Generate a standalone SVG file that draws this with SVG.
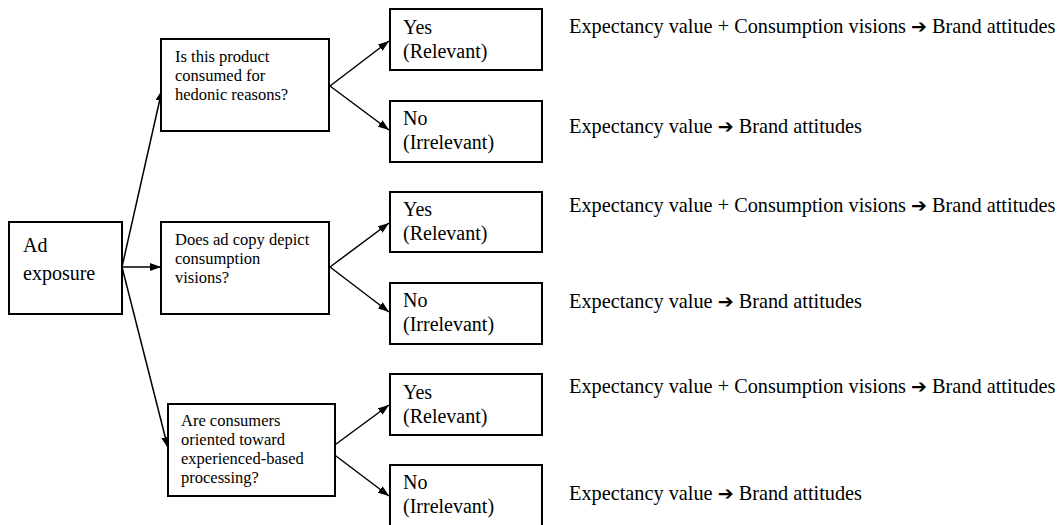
<svg xmlns="http://www.w3.org/2000/svg" width="1062" height="525" viewBox="0 0 1062 525">
<style>
.box{fill:#fff;stroke:#000;stroke-width:2}
text{font-family:'Liberation Serif','Times New Roman',serif;fill:#000}
.big{font-size:20px}
.out{font-size:20.3px}
.q{font-size:16.5px}
.ar{font-family:'DejaVu Sans',sans-serif;font-size:19px}
.c{stroke:#000;stroke-width:1.5;fill:none;marker-end:url(#ah)}
</style>
<defs>
<marker id="ah" markerUnits="userSpaceOnUse" markerWidth="11" markerHeight="8" refX="11" refY="4" orient="auto">
<path d="M0,0 L11,4 L0,8 z" fill="#000"/>
</marker>
</defs>
<rect width="1062" height="525" fill="#fff"/>
<g id="connectors">
<line class="c" x1="122" y1="267" x2="162" y2="90"/>
<line class="c" x1="122" y1="267" x2="161" y2="267"/>
<line class="c" x1="122" y1="267" x2="168" y2="448"/>
<line class="c" x1="330" y1="86" x2="389" y2="41"/>
<line class="c" x1="330" y1="86" x2="389" y2="130"/>
<line class="c" x1="330" y1="267" x2="389" y2="223"/>
<line class="c" x1="330" y1="267" x2="389" y2="312"/>
<line class="c" x1="328" y1="450" x2="389" y2="405"/>
<line class="c" x1="328" y1="450" x2="389" y2="496"/>
</g>
<g id="ad">
<rect class="box" x="9" y="222" width="113" height="92"/>
<text class="big" x="23" y="252">Ad</text>
<text class="big" x="23" y="280">exposure</text>
</g>
<g id="q1">
<rect class="box" x="161" y="39" width="168" height="92"/>
<text class="q" x="175" y="62">Is this product</text>
<text class="q" x="175" y="81">consumed for</text>
<text class="q" x="175" y="100">hedonic reasons?</text>
</g>
<g id="q2">
<rect class="box" x="161" y="222" width="168" height="92"/>
<text class="q" x="175" y="245">Does ad copy depict</text>
<text class="q" x="175" y="264">consumption</text>
<text class="q" x="175" y="283">visions?</text>
</g>
<g id="q3">
<rect class="box" x="168" y="404" width="167" height="92"/>
<text class="q" x="181" y="426">Are consumers</text>
<text class="q" x="181" y="445">oriented toward</text>
<text class="q" x="181" y="464">experienced-based</text>
<text class="q" x="181" y="483">processing?</text>
</g>
<g id="yes1">
<rect class="box" x="390" y="9" width="152" height="61"/>
<text class="big" x="403" y="34">Yes</text>
<text class="big" x="403" y="58">(Relevant)</text>
</g>
<g id="no1">
<rect class="box" x="390" y="101" width="152" height="61"/>
<text class="big" x="403" y="125">No</text>
<text class="big" x="403" y="149">(Irrelevant)</text>
</g>
<g id="yes2">
<rect class="box" x="390" y="192" width="152" height="60"/>
<text class="big" x="403" y="216">Yes</text>
<text class="big" x="403" y="240">(Relevant)</text>
</g>
<g id="no2">
<rect class="box" x="390" y="283" width="152" height="61"/>
<text class="big" x="403" y="307">No</text>
<text class="big" x="403" y="331">(Irrelevant)</text>
</g>
<g id="yes3">
<rect class="box" x="390" y="374" width="152" height="61"/>
<text class="big" x="403" y="399">Yes</text>
<text class="big" x="403" y="423">(Relevant)</text>
</g>
<g id="no3">
<rect class="box" x="390" y="465" width="152" height="61"/>
<text class="big" x="403" y="489">No</text>
<text class="big" x="403" y="513">(Irrelevant)</text>
</g>
<g id="outcomes">
<text class="out" x="569" y="33">Expectancy value + Consumption visions <tspan class="ar">➔</tspan> Brand attitudes</text>
<text class="out" x="569" y="133">Expectancy value <tspan class="ar">➔</tspan> Brand attitudes</text>
<text class="out" x="569" y="212">Expectancy value + Consumption visions <tspan class="ar">➔</tspan> Brand attitudes</text>
<text class="out" x="569" y="308">Expectancy value <tspan class="ar">➔</tspan> Brand attitudes</text>
<text class="out" x="569" y="393">Expectancy value + Consumption visions <tspan class="ar">➔</tspan> Brand attitudes</text>
<text class="out" x="569" y="500">Expectancy value <tspan class="ar">➔</tspan> Brand attitudes</text>
</g>
</svg>
